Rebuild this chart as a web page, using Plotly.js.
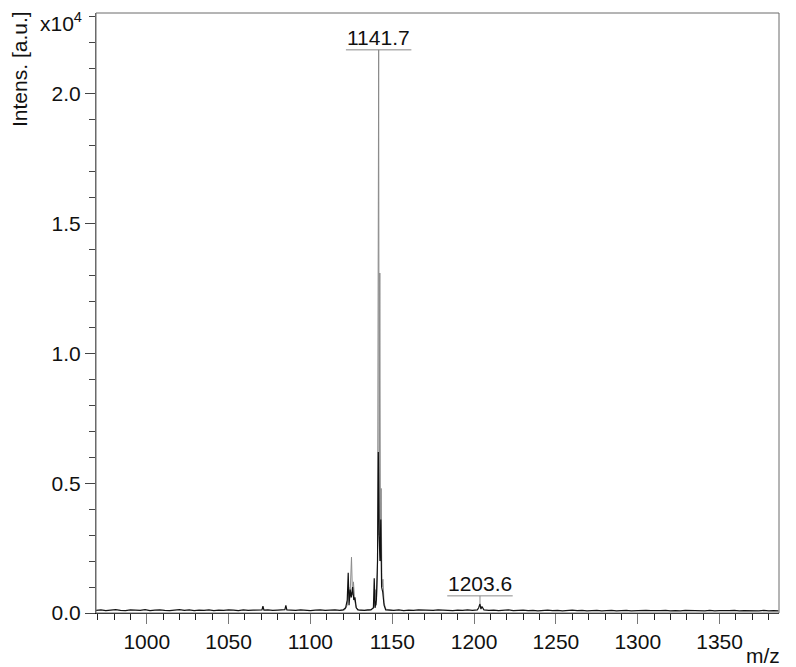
<!DOCTYPE html>
<html>
<head>
<meta charset="utf-8">
<script src="https://cdn.plot.ly/plotly-3.0.1.min.js"></script>
<style>html,body{margin:0;padding:0;background:#fff;}#chart{width:796px;height:667px;}</style>
</head>
<body>
<div id="chart"></div>
<script>
// m/z values and intensities (x10^4 a.u.)
const mzBlack = [969,972,975,978,981,984,987,990,993,996,999,1002,1005,1008,1011,1014,1017,1020,1023,1026,1029,1032,1035,1038,1041,1044,1047,1050,1053,1056,1059,1062,1065,1068,
  1070.4,1071,1071.6,1074,1077,1080,1083,1084.4,1085,1085.6,1088,1091,1094,1097,1100,1103,1106,1109,1112,1115,1118,
  1120,1121.5,1122.5,1123.1,1123.6,1124.3,1125,1125.8,1126.5,1127.2,1128,1129,1131,1133,1135,1137,
  1138.5,1139.0,1139.5,1140.3,1141.0,1141.5,1142.0,1142.5,1143.0,1143.5,1144.2,1145,1146,
  1148,1151,1154,1157,1160,1163,1166,1169,1172,1175,1178,1181,1184,1187,1190,1193,1196,1199,1202,
  1202.8,1203.6,1204.2,1204.8,1206,
  1209,1212,1215,1218,1221,1224,1227,1230,1233,1236,1239,1242,1245,1248,1251,1254,1257,1260,1263,1266,1269,1272,1275,1278,1281,1284,1287,1290,1293,1296,1299,1302,1305,1308,1311,1314,1317,1320,1323,1326,1329,1332,1335,1338,1341,1344,1347,1350,1353,1356,1359,1362,1365,1368,1371,1374,1377,1380,1383,1386];
const intBlack = [0.010,0.012,0.009,0.011,0.013,0.010,0.009,0.012,0.011,0.010,0.013,0.009,0.011,0.012,0.010,0.009,0.011,0.013,0.010,0.012,0.009,0.011,0.010,0.012,0.009,0.011,0.010,0.012,0.011,0.009,0.012,0.010,0.011,0.013,
  0.012,0.026,0.011,0.012,0.010,0.011,0.012,0.013,0.029,0.012,0.011,0.010,0.012,0.011,0.009,0.011,0.012,0.010,0.011,0.012,0.010,
  0.012,0.020,0.050,0.155,0.030,0.090,0.060,0.100,0.050,0.060,0.020,0.012,0.011,0.010,0.012,0.012,
  0.020,0.134,0.020,0.050,0.200,0.620,0.300,0.200,0.360,0.100,0.080,0.030,0.012,
  0.011,0.010,0.012,0.009,0.011,0.010,0.012,0.011,0.009,0.010,0.012,0.011,0.010,0.009,0.011,0.010,0.012,0.010,0.012,
  0.020,0.035,0.015,0.025,0.012,
  0.010,0.011,0.009,0.010,0.012,0.009,0.010,0.011,0.009,0.010,0.008,0.010,0.011,0.009,0.010,0.008,0.009,0.011,0.009,0.010,0.008,0.009,0.010,0.008,0.009,0.010,0.008,0.009,0.010,0.008,0.009,0.008,0.010,0.009,0.008,0.009,0.010,0.008,0.009,0.008,0.010,0.009,0.008,0.009,0.008,0.010,0.008,0.009,0.008,0.009,0.010,0.008,0.009,0.008,0.009,0.008,0.010,0.008,0.009,0.008];

const mzGray = [1118,1121,1122.5,1123.4,1124.2,1125.1,1125.7,1126.3,1127,1128,1130,1136,1138.8,1139.6,1140.3,1141.0,1141.7,1142.0,1142.4,1142.8,1143.2,1143.7,1144.3,1145,1146,1150];
const intGray = [0.010,0.012,0.030,0.100,0.060,0.215,0.070,0.120,0.050,0.020,0.010,0.010,0.020,0.090,0.030,0.150,2.170,0.300,1.310,0.200,0.480,0.100,0.130,0.040,0.015,0.010];

// labelled peaks
const labelMz = [1141.7, 1203.6];
const labelHeight = [2.17, 0.035];
const labelText = ['1141.7', '1203.6'];

const xTickStep = 50, xMinorStep = 10, yTickStep = 0.5, yMinorStep = 0.1;

const FONT = 'Liberation Sans, Arial, sans-serif';
const fs = 21;

const traces = [
  {x: mzGray, y: intGray, type: 'scatter', mode: 'lines', line: {color: '#8a8a8a', width: 1}, hoverinfo: 'skip'},
  {x: mzBlack, y: intBlack, type: 'scatter', mode: 'lines', line: {color: '#111', width: 1.2}, hoverinfo: 'skip'}
];

const shapes = [
  {type: 'rect', xref: 'paper', yref: 'paper', x0: 0, x1: 1, y0: 0, y1: 1, line: {color: '#6a6a6a', width: 1}, layer: 'above'}
];
const annotations = [];
labelMz.forEach((m, i) => {
  const h = labelHeight[i];
  const by = h >= 1 ? h : h + 0.031;
  shapes.push({type: 'line', xref: 'x', yref: 'y', x0: m - 20, x1: m + 20, y0: by, y1: by, line: {color: '#8a8a8a', width: 1}});
  if (by > h) shapes.push({type: 'line', xref: 'x', yref: 'y', x0: m, x1: m, y0: h, y1: by, line: {color: '#8a8a8a', width: 1}});
  annotations.push({x: m, y: by, xref: 'x', yref: 'y', text: labelText[i], showarrow: false, yanchor: 'bottom', xanchor: 'center', yshift: -1, font: {family: FONT, size: fs, color: '#111'}});
});
annotations.push({xref: 'paper', yref: 'paper', x: -0.0512, y: 1.0, text: 'x10<sup>4</sup>', showarrow: false, xanchor: 'center', yanchor: 'top', yshift: 6, font: {family: FONT, size: fs, color: '#111'}});
annotations.push({xref: 'paper', yref: 'paper', x: -0.111, y: 0.907, text: 'Intens. [a.u.]', textangle: -90, showarrow: false, xanchor: 'center', yanchor: 'middle', font: {family: FONT, size: fs, color: '#111'}});
annotations.push({xref: 'paper', yref: 'paper', x: 0.976, y: -0.07, text: 'm/z', showarrow: false, xanchor: 'center', yanchor: 'middle', font: {family: FONT, size: fs, color: '#111'}});

const layout = {
  width: 796, height: 667,
  margin: {l: 96, r: 17, t: 13, b: 54, pad: 0},
  paper_bgcolor: '#fff', plot_bgcolor: '#fff',
  showlegend: false,
  font: {family: FONT, size: fs, color: '#111'},
  xaxis: {
    range: [969, 1386.3], tickmode: 'linear', tick0: 1000, dtick: xTickStep,
    ticks: 'outside', ticklen: 10, tickwidth: 1, tickcolor: '#777',
    minor: {dtick: xMinorStep, ticks: 'outside', ticklen: 6, tickwidth: 1, tickcolor: '#222', showgrid: false},
    showgrid: false, zeroline: false, showline: true, linecolor: '#111', linewidth: 1,
    tickfont: {family: FONT, size: fs, color: '#111'}
  },
  yaxis: {
    range: [0, 2.312], tickmode: 'linear', tick0: 0, dtick: yTickStep, tickformat: '.1f',
    ticks: 'outside', ticklen: 10, tickwidth: 1, tickcolor: '#444',
    minor: {dtick: yMinorStep, ticks: 'outside', ticklen: 6, tickwidth: 1, tickcolor: '#444', showgrid: false},
    showgrid: false, zeroline: false, showline: true, linecolor: '#6a6a6a', linewidth: 1,
    tickfont: {family: FONT, size: fs, color: '#111'}
  },
  shapes: shapes,
  annotations: annotations
};

Plotly.newPlot('chart', traces, layout, {displayModeBar: false, staticPlot: true});
</script>
</body>
</html>
